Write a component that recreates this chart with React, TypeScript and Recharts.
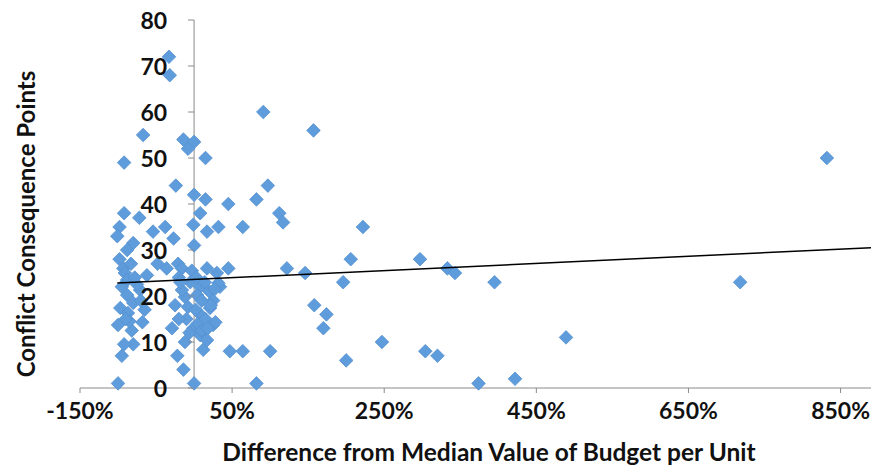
import React from 'react';
import { ScatterChart, Scatter, XAxis, YAxis, ReferenceLine, Label } from 'recharts';

// x: difference from median budget per unit (%), y: conflict consequence points
const budgetDiff = [
  832, 718, 489, 395, 422, 374, 297, 333, 343, 304, 320, 247, 200, 170, 174, 158, 196, 206, 222, 157,
  122, 146, 112, 117, 91, 97, 82, 64, 64, 100, 82, 47, 45, 45,
  -33, -32, -67, -14, 0, -8, 15, -92, -24, 0, 15, -92, -72, 8, -1, -98, -54, -38, 17, 32,
  -101, -80, -27, 0, -88,
  -93, -91, -62, -36, -21, -16, -3, 17, 30, -88, -71, -88, -80, -97, -87, -68, -100, -82, -80, -95,
  -29, -22, -14, -100, 0, -12, 12, 25, 21, -12, 8, 34, 8, -16, -8, 4, 28, 8, 17, -1, 32,
  -75, -95, -65, -85, -5, -20, 10, 20, -10, 5, 15, -25, 25, -48,
  -18, 3, 14, 22, -6, 10, 18, -20, 2, 27, -90, -78, -83, -98, -70, -92,
];
const consequencePts = [
  50, 23, 11, 23, 2, 1, 28, 26, 25, 8, 7, 10, 6, 13, 16, 18, 23, 28, 35, 56,
  26, 25, 38, 36, 60, 44, 41, 35, 8, 8, 1, 8, 40, 26,
  72, 68, 55, 54, 53.5, 52, 50, 49, 44, 42, 41, 38, 37, 38, 35.5, 35, 34, 35, 34, 35,
  33, 31.5, 32.5, 31, 30,
  26, 25, 24.5, 26, 27, 26, 25.5, 26, 25, 23.5, 21.3, 20.2, 18.5, 17.4, 16.3, 14.3, 13.7, 12.5, 9.5, 7,
  13, 7, 4, 1, 1, 10, 8.3, 13.7, 17.4, 19.8, 16, 22, 22, 21.3, 17.6, 20.2, 14.3, 11.5, 10.4, 13, 22.8,
  22.5, 22, 17, 14.5, 23, 24, 19, 21, 15, 14, 15, 18, 19, 27,
  23, 24, 23, 18, 12, 12.5, 13, 15, 17, 21.5, 15, 24, 27, 28, 19, 9.5,
];

// linear trendline end points as drawn in the source
const trendX = [-101, 890];
const trendY = [22.8, 30.5];

const xTicks = [-150, 50, 250, 450, 650, 850];
const yTicks = [0, 10, 20, 30, 40, 50, 60, 70, 80];

const points = budgetDiff.map((x, i) => ({ x, y: consequencePts[i] }));
const trend = trendX.map((x, i) => ({ x, y: trendY[i] }));

const CHART_W = 871;
const CHART_H = 468;
const X_MIN = -150;
const X_MAX = 890;
const Y_AXIS_W = 80;
const margin = { top: 20, right: 0, bottom: 0, left: 0 };
const PLOT_W = CHART_W - Y_AXIS_W - margin.left - margin.right;
// y axis crosses the x axis at 0%
const ZERO_X = margin.left + Y_AXIS_W + ((0 - X_MIN) / (X_MAX - X_MIN)) * PLOT_W;

const FONT = 'Lato, "Noto Sans", sans-serif';
const AXIS_GREY = '#8a8a8a';

const Diamond = (props: any) => {
  const { cx, cy } = props;
  const r = 6.8;
  return (
    <path
      d={`M${cx},${cy - r} L${cx + r},${cy} L${cx},${cy + r} L${cx - r},${cy} Z`}
      fill="#5e9cdc"
      stroke="#5590cf"
      strokeWidth={0.8}
    />
  );
};

const YTick = (props: any) => {
  const { y, payload } = props;
  return (
    <g>
      <line x1={ZERO_X - 6} x2={ZERO_X} y1={y} y2={y} stroke={AXIS_GREY} />
      <text
        x={ZERO_X - 27}
        y={y}
        textAnchor="end"
        dominantBaseline="central"
        fontFamily={FONT}
        fontWeight="bold"
        fontSize={23}
        fill="#111"
      >
        {payload.value}
      </text>
    </g>
  );
};

export default function App() {
  return (
    <div style={{ position: 'absolute', left: 0, top: 0, width: CHART_W, height: CHART_H, background: '#fff' }}>
      <ScatterChart width={CHART_W} height={CHART_H} margin={margin}>
        <XAxis
          type="number"
          dataKey="x"
          domain={[X_MIN, X_MAX]}
          ticks={xTicks}
          allowDataOverflow
          height={80}
          tickFormatter={(v: number) => `${v}%`}
          stroke={AXIS_GREY}
          tickSize={5}
          tickMargin={10}
          tick={{ fontFamily: FONT, fontWeight: 'bold', fontSize: 23, fill: '#111' }}
        >
          <Label
            content={() => (
              <text x={489} y={461} textAnchor="middle" fontFamily={FONT} fontWeight="bold" fontSize={24.5} fill="#111">
                Difference from Median Value of Budget per Unit
              </text>
            )}
          />
        </XAxis>
        <ReferenceLine x={0} stroke={AXIS_GREY} strokeWidth={1} />
        <Scatter data={points} shape={<Diamond />} isAnimationActive={false} />
        <Scatter
          data={trend}
          line={{ stroke: '#000', strokeWidth: 1.5 }}
          shape={() => <g />}
          isAnimationActive={false}
        />
        <YAxis
          type="number"
          dataKey="y"
          domain={[0, 80]}
          ticks={yTicks}
          width={Y_AXIS_W}
          axisLine={false}
          tickLine={false}
          tick={<YTick />}
        >
          <Label
            content={() => (
              <text
                x={25}
                y={224}
                transform="rotate(-90 25 224)"
                textAnchor="middle"
                dominantBaseline="central"
                fontFamily={FONT}
                fontWeight="bold"
                fontSize={24}
                fill="#111"
              >
                Conflict Consequence Points
              </text>
            )}
          />
        </YAxis>
      </ScatterChart>
    </div>
  );
}
